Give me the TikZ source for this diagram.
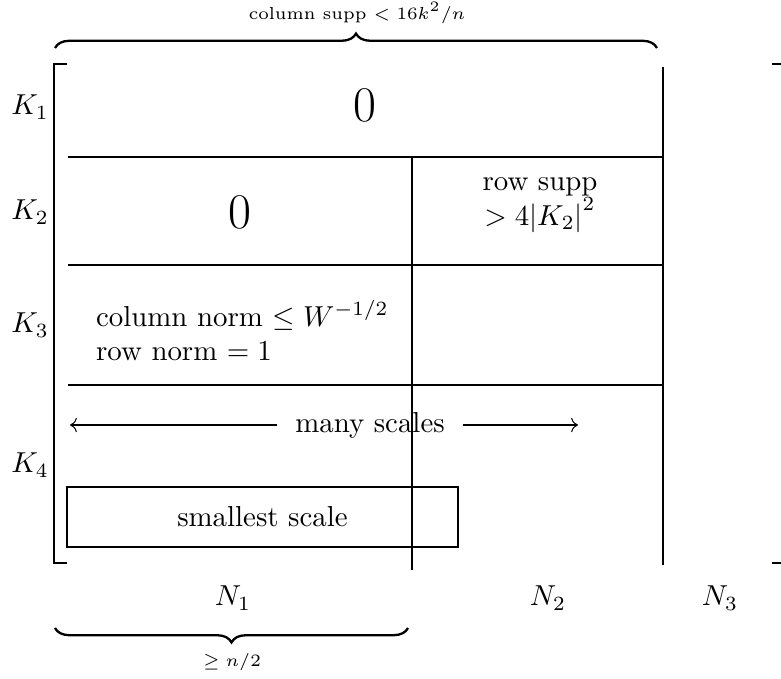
\documentclass[tikz,border=0pt]{standalone}
\usepackage{amsmath}
\usetikzlibrary{positioning, arrows.meta, decorations.pathreplacing}

\begin{document}
\begin{tikzpicture}[x=0.01217cm, y=-0.01217cm, line width=0.35pt,
    lbl/.style={inner sep=1pt},
    bigzero/.style={font=\LARGE},
    smalllbl/.style={font=\fontsize{6}{7}\selectfont},
    scalebox/.style={draw, line width=0.6pt, minimum width=4.76cm, minimum height=0.73cm},
    bracetop/.style={decorate, thick, decoration={brace, amplitude=5pt}},
    ]
        \useasboundingbox (0,0) rectangle (781,679);
        % outer brackets
        \draw (67,64) -- (54,64) -- (54,563) -- (67,563);
        \draw (772,64) -- (781,64);
        \draw (772,563) -- (781,563);
        % grid
        \draw (68,157) -- (663,157);
        \draw (68,265) -- (663,265);
        \draw (68,385) -- (663,385);
        \draw (412,157) -- (412,570);
        \draw (663,67) -- (663,565);
        % row labels
        \node[lbl] (k1) at (30,107) {$K_1$};
        \node[lbl] (k2) at (30,212) {$K_2$};
        \node[lbl] (k3) at (30,325) {$K_3$};
        \node[lbl] (k4) at (30,465) {$K_4$};
        % column labels
        \node[lbl] (n1) at (233,598) {$N_1$};
        \node[lbl] (n2) at (548,598) {$N_2$};
        \node[lbl] (n3) at (720,598) {$N_3$};
        % blocks
        \node[bigzero] (zeroa) at (365,105) {$0$};
        \node[bigzero] (zerob) at (240,212) {$0$};
        \node[align=center] (rowsupp) at (540,205) {row supp\\ $>4{\left|K_2\right|}^2$};
        \node[align=left, anchor=west] (colnorm) at (86,331) {column norm $\le W^{-1/2}$\\ row norm $=1$};
        \node[lbl] (many) at (370,425) {many scales};
        \coordinate (ml) at (70,425);
        \coordinate (mr) at (578,425);
        \draw[->] ([xshift=-5pt]many.west) -- (ml);
        \draw[->] ([xshift=5pt]many.east) -- (mr);
        \node[scalebox] (small) at (262.5,517) {smallest scale};
        % braces
        \coordinate (ta) at (55,48);
        \coordinate (tb) at (657,48);
        \draw[bracetop] (ta) -- (tb);
        \node[smalllbl] (supp) at (357,13) {column supp $<16k^2/n$};
        \coordinate (ba) at (408,628);
        \coordinate (bb) at (55,628);
        \draw[bracetop] (ba) -- (bb);
        \node[smalllbl] (half) at (232,662) {$\ge n/2$};
\end{tikzpicture}
\end{document}
